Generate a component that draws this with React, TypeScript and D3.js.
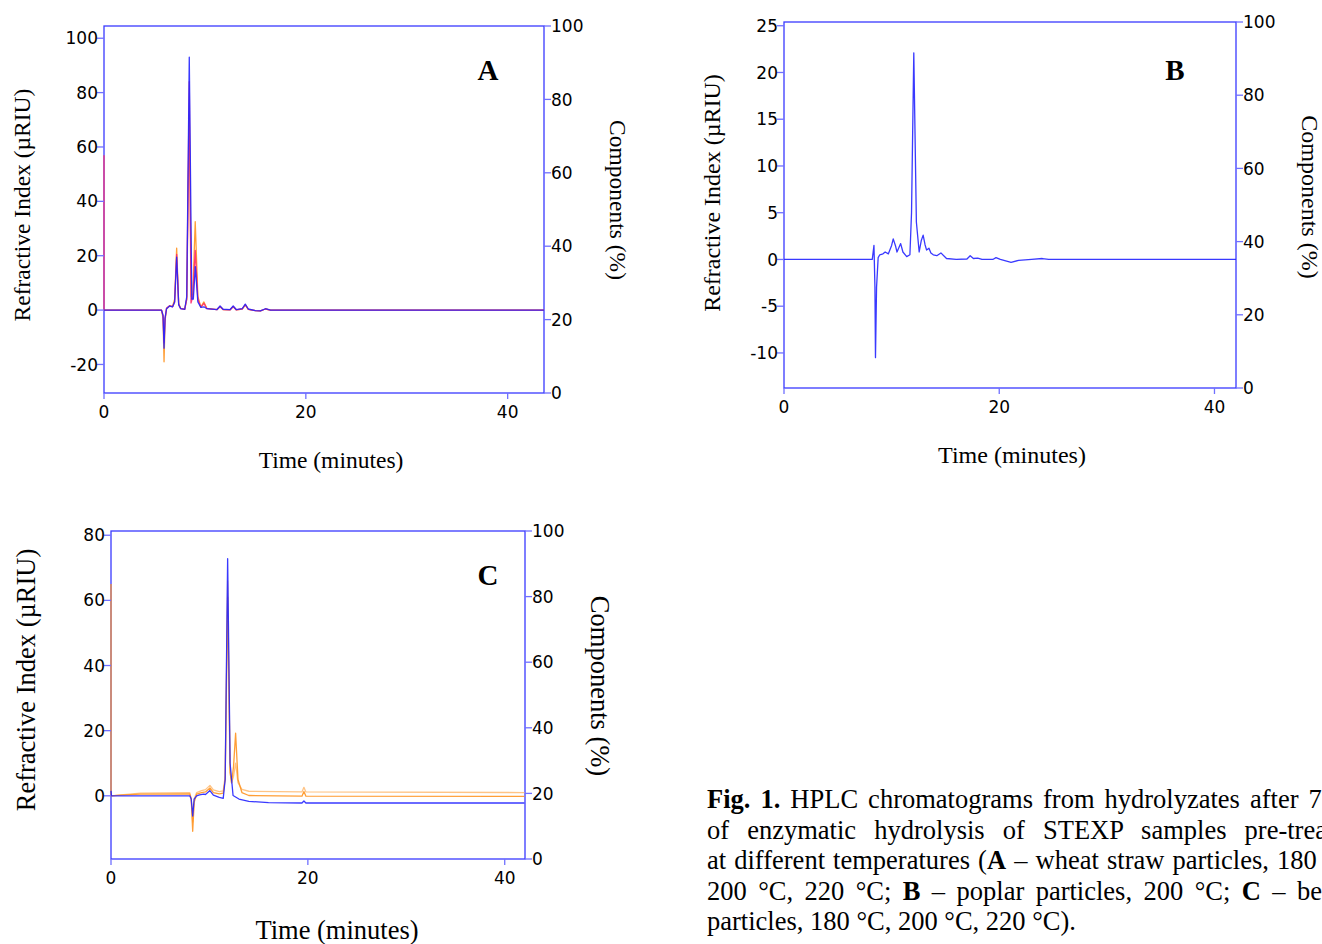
import React from 'react';
import * as d3 from 'd3';

type Pt = [number, number];

// tick labels
const timeTicks = [0, 20, 40];
const rightTicks = [0, 20, 40, 60, 80, 100];
const aLeftTicks = [-20, 0, 20, 40, 60, 80, 100];
const bLeftTicks = [-10, -5, 0, 5, 10, 15, 20, 25];
const cLeftTicks = [0, 20, 40, 60, 80];

// A - wheat straw particles (time in minutes, signal in µRIU)
const aOrange: Pt[] = [
  [0, 0], [5.7, 0], [5.85, -3], [5.95, -19], [6.05, -4], [6.2, 0.5], [6.5, 1.5], [6.8, 1.4],
  [7.0, 4], [7.2, 22.8], [7.4, 2.5], [7.6, 0.6], [8.0, 0.4], [8.2, 4], [8.45, 72], [8.65, 5],
  [8.8, 6], [9.04, 32.5], [9.3, 5], [9.6, 1.2], [9.9, 3], [10.2, 0.6], [11.2, 0.2], [11.5, 1.2],
  [11.8, 0.2], [12.5, 0.1], [12.8, 1.2], [13.1, 0.1], [13.7, 0.4], [14.0, 1.8], [14.3, 0.3],
  [15.0, -0.2], [15.5, -0.3], [16, 0.4], [16.5, 0], [43.6, 0],
];
const aRed: Pt[] = [
  [0, 57], [0, 0], [5.7, 0], [5.85, -2], [5.95, -12], [6.05, -3], [6.2, 0.8], [6.5, 1.6], [6.8, 1.2],
  [7.0, 3], [7.2, 20.5], [7.4, 2], [7.6, 0.5], [8.0, 0.3], [8.2, 4], [8.45, 84], [8.62, 2.6],
  [8.8, 5], [9.04, 22], [9.3, 4], [9.6, 1], [9.9, 2.5], [10.2, 0.5], [11.2, 0.2], [11.5, 1.3],
  [11.8, 0.2], [12.5, 0.1], [12.8, 1.3], [13.1, 0.1], [13.7, 0.4], [14.0, 2], [14.3, 0.3],
  [15.0, -0.2], [15.5, -0.3], [16, 0.4], [16.5, 0], [43.6, 0],
];
const aBlue: Pt[] = [
  [0, 0], [5.7, 0], [5.85, -2], [5.95, -14], [6.05, -3], [6.2, 0.5], [6.5, 1.5], [6.8, 1.2],
  [7.0, 3], [7.2, 19.5], [7.4, 2], [7.6, 0.5], [8.0, 0.3], [8.2, 5], [8.45, 93], [8.7, 4],
  [8.85, 4], [9.05, 16], [9.3, 3], [9.6, 1], [9.9, 1.2], [10.2, 0.5], [11.2, 0.2], [11.5, 1.5],
  [11.8, 0.3], [12.5, 0.2], [12.8, 1.5], [13.1, 0.2], [13.7, 0.5], [14.0, 2.2], [14.3, 0.4],
  [15.0, -0.2], [15.5, -0.3], [16, 0.5], [16.5, 0], [43.6, 0],
];

// B - poplar particles
const bBlue: Pt[] = [
  [0, 0], [8.2, 0], [8.36, 1.5], [8.45, -3], [8.5, -10.5], [8.6, -3], [8.75, 0.2], [8.9, 0.5],
  [9.2, 0.6], [9.4, 0.8], [9.7, 0.6], [10.0, 1.5], [10.15, 2.2], [10.35, 1.5], [10.5, 0.8],
  [10.65, 1.2], [10.84, 1.7], [11.05, 0.8], [11.4, 0.3], [11.7, 0.5], [11.85, 5], [12.06, 22.1],
  [12.3, 4], [12.56, 0.8], [12.75, 2], [12.93, 2.6], [13.1, 1.6], [13.25, 1.0], [13.47, 1.2],
  [13.65, 0.7], [13.87, 0.5], [14.2, 0.4], [14.58, 0.7], [15.1, 0.1], [16, 0], [17, 0.05],
  [17.3, 0.4], [17.6, 0.1], [18.0, 0.15], [18.4, 0], [19.4, 0], [19.7, 0.2], [20.1, 0],
  [21.1, -0.3], [21.8, -0.1], [23, 0], [24, 0.1], [24.6, 0], [42, 0],
];

// C - beech particles
const cLightOrange: Pt[] = [
  [0, 0], [1, 0.3], [3, 0.8], [8.0, 1], [8.15, -1], [8.3, -8], [8.45, -1], [8.7, 1],
  [9.2, 1.6], [9.6, 1.9], [10.05, 3.2], [10.4, 1.8], [11.0, 1.3], [11.4, 1.5], [11.6, 6],
  [11.85, 66], [12.1, 8], [12.25, 4], [12.45, 6], [12.66, 10], [12.9, 4], [13.3, 2],
  [14, 1.4], [19.4, 1.2], [19.6, 2.6], [19.8, 1.2], [42, 1.0],
];
const cOrange: Pt[] = [
  [0, 65], [0, 0], [1, 0.2], [3, 0.5], [8.0, 0.6], [8.15, -1], [8.3, -10.9], [8.45, -2],
  [8.7, 0.5], [9.2, 1.0], [9.6, 1.2], [10.05, 2.4], [10.4, 1.0], [11.0, 0.6], [11.4, 0.8],
  [11.6, 5], [11.85, 61], [12.1, 7], [12.25, 4], [12.45, 9], [12.66, 19.2], [12.9, 5],
  [13.3, 1], [14, 0.1], [19.4, -0.1], [19.6, 1.3], [19.8, -0.1], [42, -0.2],
];
const cBlue: Pt[] = [
  [0, 1.5], [0.05, 0], [8.0, 0], [8.15, -1], [8.3, -6.2], [8.45, -1], [8.7, 0], [9.0, 0.3],
  [9.4, 0.5], [9.6, 0.4], [10.05, 1.6], [10.4, 0.2], [11.0, -0.5], [11.4, -0.8], [11.6, 5],
  [11.85, 72.8], [12.1, 10], [12.4, 0.1], [13, -1], [14, -1.7], [16, -2.1], [19.4, -2.2],
  [19.6, -1.6], [19.8, -2.2], [42, -2.2],
];

const BLUE = '#2424ff';
const ORANGE = '#ff9420';
const LIGHT_ORANGE = '#ffbe78';
const RED = '#ff2a6a';
const AXIS = '#3a3aff';
const TICK = '#7070ff';
const SERIF = "'Liberation Serif', 'Times New Roman', serif";
const SANS = "'DejaVu Sans', Verdana, sans-serif";

interface PanelProps {
  id: string;
  box: { left: number; top: number; right: number; bottom: number };
  xMax: number;
  yDomain: [number, number];
  leftTicks: number[];
  lines: { data: Pt[]; color: string }[];
  letter: string;
  letterPos: [number, number];
  titleSize: number;
  timeTitle: [number, number];
  leftTitle: [number, number];
  rightTitle: [number, number];
}

function Panel(p: PanelProps) {
  const { box } = p;
  const x = d3.scaleLinear().domain([0, p.xMax]).range([box.left, box.right]);
  const y = d3.scaleLinear().domain(p.yDomain).range([box.bottom, box.top]);
  const yr = d3.scaleLinear().domain([0, 100]).range([box.bottom, box.top]);
  const line = d3.line<Pt>().x(d => x(d[0])).y(d => y(d[1]));
  const clipId = 'clip' + p.id;

  return (
    <g>
      <defs>
        <clipPath id={clipId}>
          <rect x={box.left - 1} y={box.top} width={box.right - box.left + 1} height={box.bottom - box.top} />
        </clipPath>
      </defs>
      <rect x={box.left} y={box.top} width={box.right - box.left} height={box.bottom - box.top}
        fill="none" stroke={AXIS} strokeWidth={1.3} />
      <g clipPath={`url(#${clipId})`}>
        {p.lines.map((l, i) => (
          <path key={i} d={line(l.data) || ''} fill="none" stroke={l.color} strokeWidth={1.3}
            strokeOpacity={0.9} strokeLinejoin="round" />
        ))}
      </g>

      {/* left axis */}
      {p.leftTicks.map(t => (
        <g key={'l' + t}>
          <line x1={box.left - 7} x2={box.left} y1={y(t)} y2={y(t)} stroke={TICK} strokeWidth={1.3} />
          <text x={box.left - 6} y={y(t)} dy="0.36em" textAnchor="end" fontFamily={SANS} fontSize={17}>{t}</text>
        </g>
      ))}
      {/* right axis */}
      {rightTicks.map(t => (
        <g key={'r' + t}>
          <line x1={box.right} x2={box.right + 7} y1={yr(t)} y2={yr(t)} stroke={TICK} strokeWidth={1.3} />
          <text x={box.right + 7} y={yr(t)} dy="0.36em" textAnchor="start" fontFamily={SANS} fontSize={17}>{t}</text>
        </g>
      ))}
      {/* time axis */}
      {timeTicks.map(t => (
        <g key={'x' + t}>
          <line x1={x(t)} x2={x(t)} y1={box.bottom} y2={box.bottom + 6} stroke={TICK} strokeWidth={1.3} />
          <text x={x(t)} y={box.bottom + 19} dy="0.36em" textAnchor="middle" fontFamily={SANS} fontSize={17}>{t}</text>
        </g>
      ))}

      <text x={p.timeTitle[0]} y={p.timeTitle[1]} textAnchor="middle" fontFamily={SERIF} fontSize={p.titleSize}>
        Time (minutes)
      </text>
      <text transform={`translate(${p.leftTitle[0]},${p.leftTitle[1]}) rotate(-90)`} textAnchor="middle"
        dy="0.35em" fontFamily={SERIF} fontSize={p.titleSize}>
        Refractive Index (µRIU)
      </text>
      <text transform={`translate(${p.rightTitle[0]},${p.rightTitle[1]}) rotate(90)`} textAnchor="middle"
        dy="0.35em" fontFamily={SERIF} fontSize={p.titleSize}>
        Components (%)
      </text>
      <text x={p.letterPos[0]} y={p.letterPos[1]} textAnchor="middle" fontFamily={SERIF} fontWeight="bold" fontSize={29}>
        {p.letter}
      </text>
    </g>
  );
}

export default function App() {
  const capStyle = { fontFamily: SERIF, fontSize: 26.5 };
  return (
    <svg width={1322} height={944} style={{ position: 'absolute', left: 0, top: 0, display: 'block', background: '#fff' }}>
      <rect width={1322} height={944} fill="#fff" />
      <Panel id="A" box={{ left: 104, top: 26, right: 544, bottom: 393 }} xMax={43.6} yDomain={[-30.5, 104.5]}
        leftTicks={aLeftTicks}
        lines={[{ data: aOrange, color: ORANGE }, { data: aRed, color: RED }, { data: aBlue, color: BLUE }]}
        letter="A" letterPos={[488, 80]} titleSize={23.5}
        timeTitle={[331, 468]} leftTitle={[22, 205]} rightTitle={[618, 200]} />
      <Panel id="B" box={{ left: 784, top: 22, right: 1236, bottom: 388 }} xMax={42} yDomain={[-13.75, 25.4]}
        leftTicks={bLeftTicks}
        lines={[{ data: bBlue, color: BLUE }]}
        letter="B" letterPos={[1175, 80]} titleSize={24}
        timeTitle={[1012, 463]} leftTitle={[712, 193]} rightTitle={[1310, 197]} />
      <Panel id="C" box={{ left: 111, top: 531, right: 525, bottom: 859 }} xMax={42.06} yDomain={[-19.4, 81.3]}
        leftTicks={cLeftTicks}
        lines={[{ data: cLightOrange, color: LIGHT_ORANGE }, { data: cOrange, color: ORANGE }, { data: cBlue, color: BLUE }]}
        letter="C" letterPos={[488, 585]} titleSize={26.5}
        timeTitle={[337, 939]} leftTitle={[26, 680]} rightTitle={[600, 686]} />

      <g {...capStyle}>
        <text x={707} y={808} wordSpacing={3.4}>
          <tspan fontWeight="bold">Fig. 1.</tspan> HPLC chromatograms from hydrolyzates after 72 h
        </text>
        <text x={707} y={839} wordSpacing={11.5}>
          of enzymatic hydrolysis of STEXP samples pre-treated
        </text>
        <text x={707} y={869} wordSpacing={1.5}>
          at different temperatures (<tspan fontWeight="bold">A</tspan> – wheat straw particles, 180 °C,
        </text>
        <text x={707} y={900} wordSpacing={4.8}>
          200 °C, 220 °C; <tspan fontWeight="bold">B</tspan> – poplar particles, 200 °C; <tspan fontWeight="bold">C</tspan> – beech
        </text>
        <text x={707} y={930}>
          particles, 180 °C, 200 °C, 220 °C).
        </text>
      </g>
    </svg>
  );
}
